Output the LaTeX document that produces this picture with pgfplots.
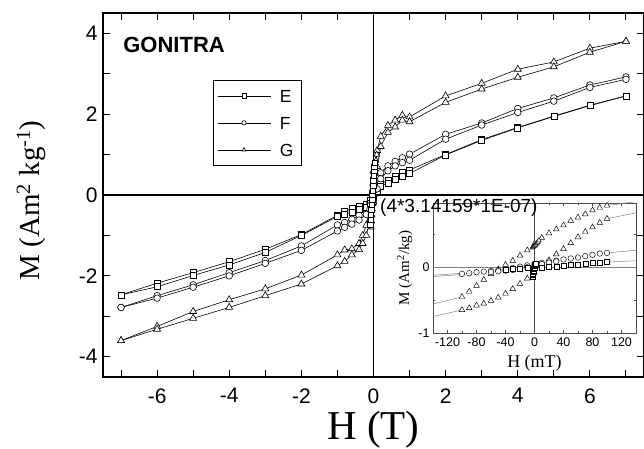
\documentclass[border=0pt]{standalone}
\usepackage{fontspec}
\setmainfont{Liberation Serif}
\setsansfont{Liberation Sans}
\usepackage{pgfplots}
\pgfplotsset{compat=1.18}
\pgfplotsset{
  ser/.style={black, line width=0.6pt, mark options={fill=white, solid, line width=0.6pt}},
  ins/.style={only marks, mark options={fill=white, draw=black, line width=0.45pt}},
  fit/.style={gray, line width=0.5pt, no marks},
}
\begin{document}
\begin{tikzpicture}
\begin{axis}[
  name=main, at={(0,0)}, anchor=south west,
  width=541pt, height=364pt, scale only axis,
  xmin=-7.5, xmax=7.5, ymin=-4.5, ymax=4.5,
  xtick={-6,-4,...,6}, ytick={-4,-2,...,4},
  minor xtick={-7,-5,...,7}, minor ytick={-3,-1,1,3},
  tick align=inside, major tick length=7pt, minor tick length=7pt,
  tick style={black, line width=1pt},
  axis line style={line width=1.2pt},
  /pgf/number format/assume math mode=true,
  ticklabel style={font=\sffamily\fontsize{21}{23}\selectfont},
  xticklabel style={yshift=-8pt},
  yticklabel style={xshift=-2pt},
  xlabel={H (T)},
  xlabel style={font=\fontsize{41}{44}\selectfont, at={(axis description cs:0.5,-0.146)}, anchor=center},
  ylabel={M (Am\textsuperscript{2} kg\textsuperscript{-1})},
  ylabel style={font=\fontsize{29}{32}\selectfont, at={(axis description cs:-0.133,0.485)}, anchor=center},
  legend style={at={(0.203,0.816)}, anchor=north west, draw=black, line width=0.8pt,
    font=\sffamily\fontsize{17.5}{20}\selectfont, inner xsep=4pt, inner ysep=7pt, row sep=10pt,
    nodes={inner xsep=4pt, inner ysep=2pt, text height=13pt, text depth=0pt},
    /tikz/every odd column/.append style={column sep=5pt}},
  legend cell align=left,
  legend image code/.code={\draw[mark repeat=2, mark phase=2, mark size=2.2pt, #1] plot coordinates {(0pt,0pt) (26.5pt,0pt) (53pt,0pt)};},
]
\draw[line width=1.2pt] (axis cs:-7.5,0) -- (axis cs:7.5,0);
\draw[line width=1.2pt] (axis cs:0,-4.5) -- (axis cs:0,4.5);
% E
\addplot[ser, mark=square*, mark size=3pt] coordinates {
(7,2.45)(6,2.22)(5,1.95)(4,1.67)(3,1.37)(2,1.00)(1,0.62)(0.8,0.56)(0.6,0.47)(0.4,0.37)(0.2,0.27)(0.1,0.15)(0,0.02)(-0.1,-0.14)(-0.2,-0.22)(-0.4,-0.28)(-0.6,-0.34)(-0.8,-0.40)(-1,-0.50)(-2,-0.98)(-3,-1.34)(-4,-1.65)(-5,-1.92)(-6,-2.18)(-7,-2.47)};
\addlegendentry{E}
% F
\addplot[ser, mark=*, mark size=3.3pt] coordinates {
(7,2.92)(6,2.72)(5,2.40)(4,2.14)(3,1.78)(2,1.50)(1,1.01)(0.8,0.92)(0.6,0.83)(0.4,0.72)(0.2,0.55)(0.1,0.4)(0,0.2)(-0.1,-0.2)(-0.2,-0.35)(-0.4,-0.5)(-0.6,-0.6)(-0.8,-0.68)(-1,-0.74)(-2,-1.26)(-3,-1.62)(-4,-1.92)(-5,-2.22)(-6,-2.49)(-7,-2.78)};
\addlegendentry{F}
% G
\addplot[ser, mark=triangle*, mark size=4pt] coordinates {
(7,3.80)(6,3.63)(5,3.29)(4,3.11)(3,2.76)(2,2.45)(1,1.93)(0.8,1.97)(0.6,1.85)(0.4,1.72)(0.2,1.45)(0.1,1.1)(0,0.6)(-0.1,-0.3)(-0.2,-0.75)(-0.3,-1.0)(-0.4,-1.2)(-0.6,-1.33)(-0.8,-1.36)(-1,-1.48)(-2,-1.98)(-3,-2.32)(-4,-2.59)(-5,-2.88)(-6,-3.25)(-7,-3.60)};
\addlegendentry{G}
% return branches
\addplot[ser, mark=square*, mark size=3pt, forget plot] coordinates {
(-7,-2.47)(-6,-2.27)(-5,-1.99)(-4,-1.73)(-3,-1.42)(-2,-1.00)(-1,-0.53)(-0.8,-0.48)(-0.6,-0.42)(-0.4,-0.36)(-0.2,-0.30)(-0.1,-0.2)(0,-0.05)(0.1,0.1)(0.2,0.22)(0.4,0.30)(0.6,0.38)(0.8,0.47)(1,0.53)(2,0.99)(3,1.35)(4,1.66)(5,1.94)(6,2.21)(7,2.45)};
\addplot[ser, mark=*, mark size=3.3pt, forget plot] coordinates {
(-7,-2.78)(-6,-2.55)(-5,-2.28)(-4,-2.00)(-3,-1.69)(-2,-1.37)(-1,-0.89)(-0.8,-0.80)(-0.6,-0.72)(-0.4,-0.62)(-0.2,-0.48)(-0.1,-0.35)(0,-0.2)(0.1,0.15)(0.2,0.4)(0.4,0.6)(0.6,0.72)(0.8,0.80)(1,0.86)(2,1.38)(3,1.73)(4,2.04)(5,2.32)(6,2.66)(7,2.86)};
\addplot[ser, mark=triangle*, mark size=4pt, forget plot] coordinates {
(-7,-3.60)(-6,-3.32)(-5,-3.05)(-4,-2.78)(-3,-2.49)(-2,-2.20)(-1,-1.75)(-0.8,-1.64)(-0.6,-1.48)(-0.4,-1.35)(-0.3,-1.2)(-0.2,-1.0)(-0.1,-0.6)(0,0.0)(0.1,0.7)(0.2,1.2)(0.4,1.55)(0.6,1.68)(0.8,1.85)(1,1.81)(2,2.29)(3,2.62)(4,2.91)(5,3.17)(6,3.53)(7,3.80)};
% low field columns
\addplot[ser, mark=triangle*, mark size=3.4pt, forget plot] coordinates {
(-0.06,-0.8)(-0.05,-0.65)(-0.04,-0.5)(-0.03,-0.35)(-0.02,-0.2)(-0.01,-0.05)(0,0.1)(0.01,0.25)(0.02,0.4)(0.03,0.55)(0.05,0.7)(0.07,0.85)(0.09,1.0)};
\addplot[ser, mark=*, mark size=3pt, forget plot] coordinates {
(-0.08,-0.65)(-0.07,-0.5)(-0.06,-0.35)(-0.05,-0.2)(-0.04,-0.05)(-0.03,0.1)(-0.02,0.25)(-0.01,0.4)(0,0.55)(0.02,0.7)};
\addplot[ser, mark=square*, mark size=2.8pt, forget plot] coordinates {
(-0.09,-0.72)(-0.08,-0.6)(-0.07,-0.48)(-0.06,-0.36)(-0.05,-0.24)(-0.04,-0.12)(-0.03,0)(-0.02,0.12)(-0.01,0.24)(0,0.36)(0.01,0.48)(0.02,0.6)(0.03,0.7)(0.04,0.8)};
\node[font=\sffamily\bfseries\fontsize{22}{24}\selectfont] at (axis cs:-5.53,3.70) {GONITRA};
\end{axis}

\begin{axis}[
  name=inset, at={(main.south west)}, anchor=south west, xshift=330pt, yshift=44pt,
  width=203pt, height=130pt, scale only axis,
  xmin=-140, xmax=140, ymin=-1, ymax=0.98,
  axis background/.style={fill=white},
  axis line style={gray!60!black, line width=0.5pt},
  xtick={-120,-80,...,120}, minor xtick={-100,-60,...,100},
  ytick={-1,0}, minor ytick={-0.5,0.5},
  tick align=inside, major tick length=3pt, minor tick length=2pt,
  tick style={gray!60!black, line width=0.5pt},
  /pgf/number format/assume math mode=true,
  ticklabel style={font=\sffamily\fontsize{12.5}{13}\selectfont},
  xticklabel style={yshift=-1pt},
  xlabel={H (mT)},
  xlabel style={font=\fontsize{18}{20}\selectfont, at={(axis description cs:0.5,-0.23)}, anchor=center},
  ylabel={M (Am\textsuperscript{2}/kg)},
  ylabel style={font=\fontsize{15}{17}\selectfont, at={(axis description cs:-0.14,0.5)}, anchor=center},
]
\draw[gray, line width=0.5pt] (axis cs:-140,0) -- (axis cs:140,0);
\draw[gray!60!black, line width=0.5pt] (axis cs:0,-1) -- (axis cs:0,0.98);
% fit lines
\addplot[fit] coordinates {(-140,-0.56)(-100,-0.45)};
\addplot[fit] coordinates {(-140,-0.75)(-100,-0.65)};
\addplot[fit] coordinates {(100,0.94)(140,1.0)};
\addplot[fit] coordinates {(100,0.74)(140,0.83)};
\addplot[fit] coordinates {(-140,-0.12)(-100,-0.09)};
\addplot[fit] coordinates {(-140,-0.14)(-100,-0.11)};
\addplot[fit] coordinates {(100,0.22)(140,0.26)};
\addplot[fit] coordinates {(100,0.08)(140,0.10)};
% G
\addplot[ins, mark=triangle*, mark size=3.3pt] coordinates {
(-100,-0.65)(-90,-0.62)(-80,-0.58)(-70,-0.55)(-60,-0.51)(-50,-0.46)(-40,-0.40)(-30,-0.33)(-20,-0.25)(-10,-0.17)(0,-0.08)(10,0.02)(20,0.11)(30,0.20)(40,0.28)(50,0.37)(60,0.46)(70,0.54)(80,0.61)(90,0.68)(100,0.74)};
\addplot[ins, mark=triangle*, mark size=3.3pt] coordinates {
(100,0.94)(90,0.91)(80,0.87)(70,0.81)(60,0.76)(50,0.71)(40,0.64)(30,0.58)(20,0.52)(10,0.45)(0,0.36)(-10,0.26)(-20,0.18)(-30,0.10)(-40,0.04)(-50,-0.03)(-60,-0.10)(-70,-0.19)(-80,-0.28)(-90,-0.37)(-100,-0.45)};
\addplot[ins, mark=triangle*, mark size=2.8pt] coordinates {
(-3,0.30)(-2,0.31)(-1,0.32)(0,0.33)(1,0.34)(2,0.35)(3,0.37)(4,0.38)(5,0.39)(6,0.41)};
% F
\addplot[ins, mark=*, mark size=2.8pt] coordinates {
(-100,-0.10)(-90,-0.09)(-80,-0.075)(-70,-0.065)(-60,-0.055)(-50,-0.045)(-40,-0.03)(-30,-0.01)(-20,0.01)(-10,0.03)(0,0.05)(10,0.07)(20,0.09)(30,0.10)(40,0.12)(50,0.135)(60,0.15)(70,0.17)(80,0.19)(90,0.21)(100,0.22)};
\addplot[ins, mark=*, mark size=2.8pt] coordinates {
(-60,-0.07)(-50,-0.06)(-40,-0.05)(-30,-0.04)(-20,-0.02)(-10,0.0)(0,0.02)(10,0.05)(20,0.07)(30,0.09)};
% E
\addplot[ins, mark=square*, mark size=2.5pt] coordinates {
(-40,-0.03)(-30,-0.02)(-20,-0.015)(-10,-0.01)(0,0.0)(10,0.0)(20,0.005)(30,0.015)(40,0.025)(50,0.035)(60,0.045)(70,0.055)(80,0.065)(90,0.075)(100,0.08)};
\addplot[ins, mark=square*, mark size=2.5pt] coordinates {
(-3,-0.15)(-2.5,-0.12)(-2,-0.1)(-1.5,-0.07)(-1,-0.05)(-0.5,-0.02)(0,0.0)(0.5,0.02)(1,0.04)(1.5,0.06)};
\end{axis}

\node[anchor=west, inner sep=0pt, font=\sffamily\fontsize{19}{21}\selectfont] at ([shift={(277pt,169pt)}]main.south west) {(4*3.14159*1E-07)};

\pgfresetboundingbox
\path ([shift={(-103pt,-72pt)}]main.south west) rectangle ([shift={(0pt,13pt)}]main.north east);
\end{tikzpicture}
\end{document}
